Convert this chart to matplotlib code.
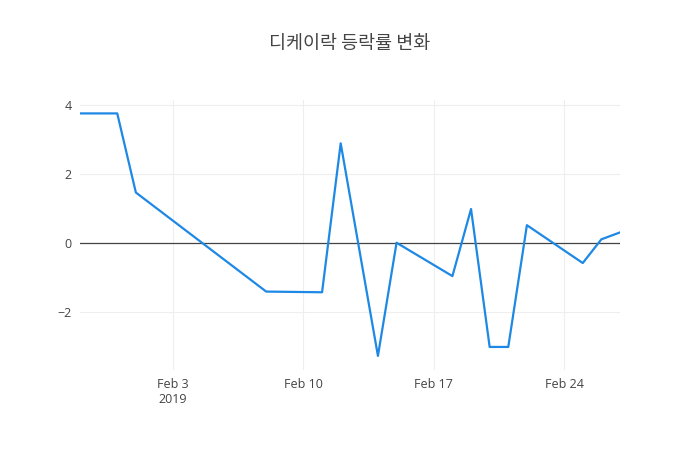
import numpy as np
import pandas as pd
from matplotlib import pyplot as plt
import matplotlib.dates as mdates

plt.rcParams['font.family'] = ['Open Sans', 'Noto Sans CJK KR', 'DejaVu Sans']

# data
dates = pd.to_datetime(['2019-01-29', '2019-01-31', '2019-02-01', '2019-02-08',
                        '2019-02-11', '2019-02-12', '2019-02-14', '2019-02-15',
                        '2019-02-18', '2019-02-19', '2019-02-20', '2019-02-21',
                        '2019-02-22', '2019-02-25', '2019-02-26', '2019-02-27'])
change = [3.76, 3.76, 1.46, -1.42, -1.44, 2.89, -3.29, 0.0,
          -0.97, 0.98, -3.03, -3.03, 0.51, -0.59, 0.1, 0.3]

title = '디케이락 등락률 변화'
xticks = pd.to_datetime(['2019-02-03', '2019-02-10', '2019-02-17', '2019-02-24'])
xticklabels = ['Feb 3\n2019', 'Feb 10', 'Feb 17', 'Feb 24']
yticks = [-2, 0, 2, 4]
yticklabels = ['\u22122', '0', '2', '4']

fig = plt.figure(figsize=(7, 4.5), dpi=100)
ax = fig.add_axes([80/700, 80/450, 540/700, 270/450])

ax.plot(dates, change, color='#1e88e5', lw=1.6, zorder=3)
ax.axhline(0, color='#444444', lw=0.9, zorder=2)

ax.set_xlim(dates[0], dates[-1])
ax.set_ylim(-3.7, 4.15)
ax.set_xticks(xticks)
ax.set_xticklabels(xticklabels, color='#444444', fontsize=9)
ax.set_yticks(yticks)
ax.set_yticklabels(yticklabels, color='#444444', fontsize=9)
ax.grid(True, color='#eeeeee', lw=0.8)
ax.tick_params(length=0, pad=6)
for s in ax.spines.values():
    s.set_visible(False)
ax.set_axisbelow(True)

fig.text(0.5, 1 - 44/450, title, ha='center', va='center', fontsize=13.3,
         color='#444444', family=['Noto Sans CJK KR', 'DejaVu Sans'])

fig.savefig('out.png', dpi=100)
